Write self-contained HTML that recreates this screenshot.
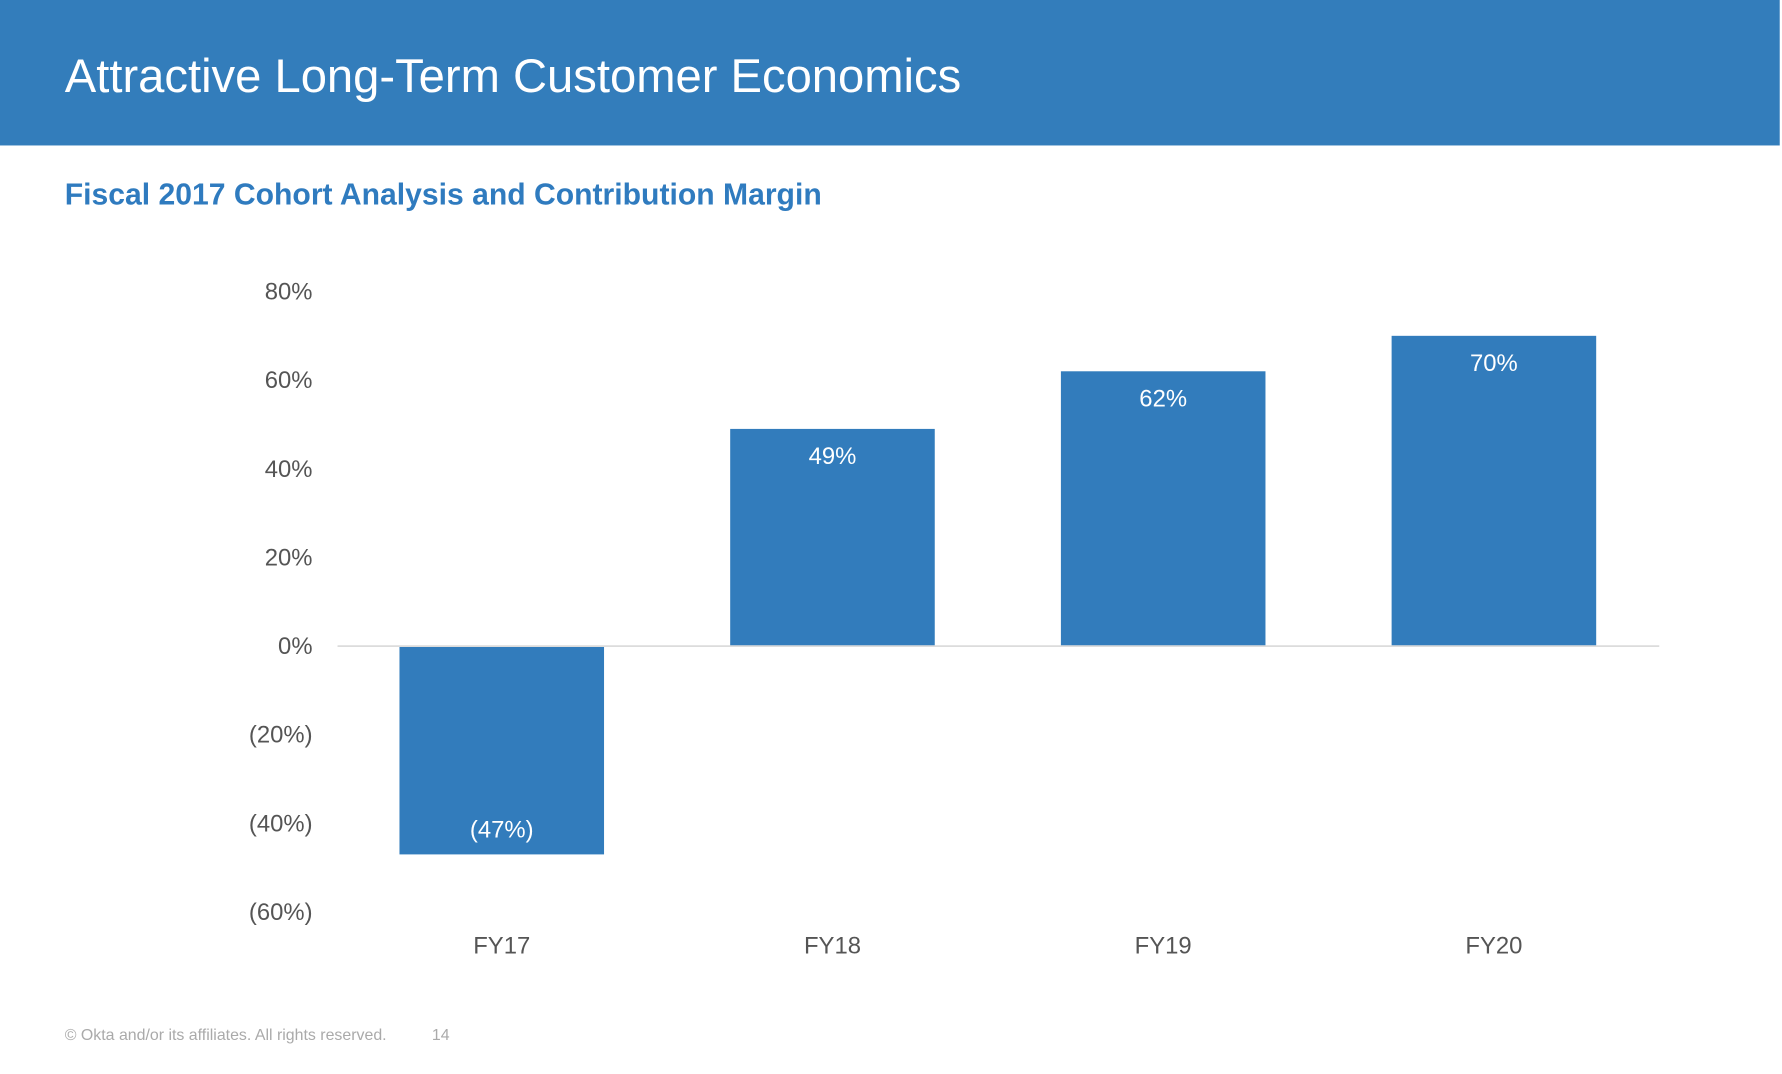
<!DOCTYPE html>
<html><head><meta charset="utf-8"><style>
html,body{margin:0;padding:0;background:#fff;width:1782px;height:1074px;overflow:hidden}
#stage{position:absolute;left:0;top:0;width:1568px;height:945px;transform:scale(1.13648);transform-origin:0 0;font-family:"Liberation Sans",sans-serif}
#header{position:absolute;left:0;top:0;width:1566px;height:128px;background:#337dbb}
#title{position:absolute;left:57px;top:43px;font-size:41.5px;color:#fff;white-space:nowrap}
#subtitle{position:absolute;left:57px;top:156px;font-size:26.5px;font-weight:bold;color:#2f7bbf;white-space:nowrap}
#footer{position:absolute;left:57px;top:902px;font-size:14px;color:#aaa;white-space:nowrap}
#pagenum{position:absolute;left:380px;top:902px;font-size:14px;color:#aaa}
svg{position:absolute;left:0;top:0}
</style></head><body>
<div id="stage">
<div id="header"><div id="title">Attractive Long-Term Customer Economics</div></div>
<div id="subtitle">Fiscal 2017 Cohort Analysis and Contribution Margin</div>
<svg id="chart" width="1568" height="945"></svg>
<div id="footer">© Okta and/or its affiliates. All rights reserved.</div>
<div id="pagenum">14</div>
</div>
<script>
const categories=["FY17","FY18","FY19","FY20"];
const values=[-47,49,62,70];
const valueLabels=["(47%)","49%","62%","70%"];
const tickValues=[80,60,40,20,0,-20,-40,-60];
const tickLabels=["80%","60%","40%","20%","0%","(20%)","(40%)","(60%)"];
const NS="http://www.w3.org/2000/svg";
const svg=document.getElementById('chart');
const y0=568.5, pxPer=78/20;
function yScale(v){return y0-v*pxPer;}
function xCenter(i){return 441.5+i*291;}
const barW=180;
function mk(t,a){const e=document.createElementNS(NS,t);for(const k in a)e.setAttribute(k,a[k]);svg.appendChild(e);return e;}
tickValues.forEach((v,i)=>{
  const t=mk('text',{x:275,y:yScale(v)+7,'text-anchor':'end','font-size':21,fill:'#555','font-family':'Liberation Sans, sans-serif'});
  t.textContent=tickLabels[i];
  
  
});
values.forEach((v,i)=>{
  const top=Math.min(yScale(v),y0), h=Math.abs(yScale(v)-y0);
  const r=mk('rect',{x:xCenter(i)-barW/2,y:top,width:barW,height:h,fill:'#327cbc'});
  
  
  const ly=v>=0?yScale(v)+31:yScale(v)-15;
  const t=mk('text',{x:xCenter(i),y:ly,'text-anchor':'middle','font-size':21,fill:'#fff','font-family':'Liberation Sans, sans-serif'});
  t.textContent=valueLabels[i];
  
  
  const c=mk('text',{x:xCenter(i),y:839,'text-anchor':'middle','font-size':21,fill:'#555','font-family':'Liberation Sans, sans-serif'});
  c.textContent=categories[i];
  
  
});
const ax=mk('line',{x1:297,x2:1460,y1:y0,y2:y0,stroke:'#dcdcdc','stroke-width':1.5});


</script>
</body></html>
